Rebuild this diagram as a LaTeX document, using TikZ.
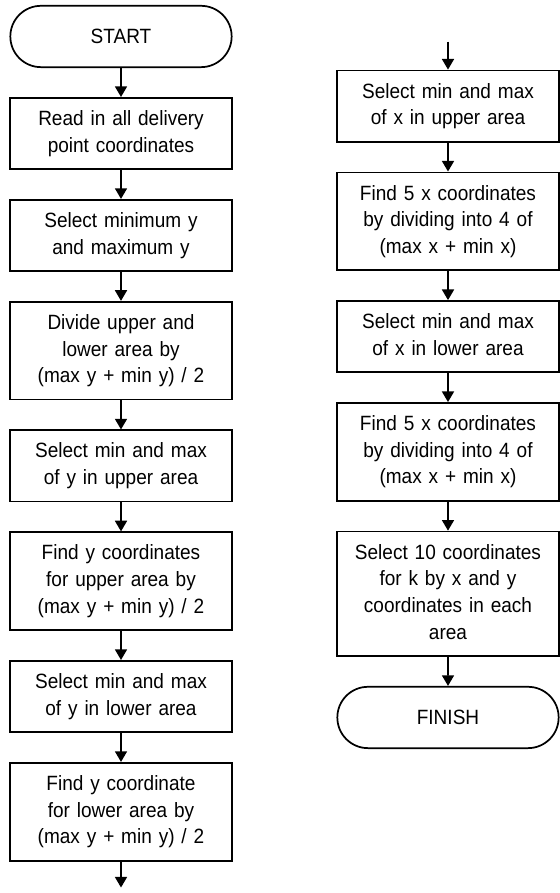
\documentclass[tikz,border=0pt]{standalone}
\usepackage{fontspec}
\setmainfont{Liberation Sans}[FakeStretch=0.92]
\usetikzlibrary{matrix, arrows.meta, shapes.misc}

\tikzset{
  proc/.style = {draw, line width=1.3pt, text width=150pt, align=center,
    inner xsep=8pt, inner ysep=6.7pt,
    execute at begin node=\strut, execute at end node=\strut},
  term/.style = {draw, line width=1.3pt, rounded rectangle,
    minimum width=166pt, minimum height=46pt},
  flow/.style = {line width=1.3pt, -{Triangle[length=8pt, width=9pt]}}
}

\begin{document}
\begin{tikzpicture}[font=\fontsize{15.5}{20}\selectfont]
\useasboundingbox (0,0) rectangle (420pt,-669.75pt);
\matrix (lcol) [matrix of nodes, row sep = 21.75pt, inner sep = 0pt, anchor = north] at (90.75pt,-3.5pt) {
\node[term](start){START}; \\
\node[proc](readpts){Read in all delivery\\point coordinates}; \\
\node[proc](selmm){Select minimum y\\and maximum y}; \\
\node[proc](divide){Divide upper and\\lower area by\\(max y + min y) / 2}; \\
\node[proc](upsel){Select min and max\\of y in upper area}; \\
\node[proc](upfind){Find y coordinates\\for upper area by\\(max y + min y) / 2}; \\
\node[proc](lowsel){Select min and max\\of y in lower area}; \\
\node[proc](lowfind){Find y coordinate\\for lower area by\\(max y + min y) / 2}; \\
};
\matrix (rcol) [matrix of nodes, row sep = 21.75pt, inner sep = 0pt, anchor = north] at (336pt,-52pt) {
\node[proc](xupsel){Select min and max\\of x in upper area}; \\
\node[proc](xupfind){Find 5 x coordinates\\by dividing into 4 of\\(max x + min x)}; \\
\node[proc](xlowsel){Select min and max\\of x in lower area}; \\
\node[proc](xlowfind){Find 5 x coordinates\\by dividing into 4 of\\(max x + min x)}; \\
\node[proc](selk){Select 10 coordinates\\for k by x and y\\coordinates in each\\area}; \\
\node[term](finish){FINISH}; \\
};
\coordinate (lout) at ([yshift=-19.5pt]lowfind.south);
\coordinate (rin) at ([yshift=21pt]xupsel.north);
\draw[flow] (start) -- (readpts);
\draw[flow] (readpts) -- (selmm);
\draw[flow] (selmm) -- (divide);
\draw[flow] (divide) -- (upsel);
\draw[flow] (upsel) -- (upfind);
\draw[flow] (upfind) -- (lowsel);
\draw[flow] (lowsel) -- (lowfind);
\draw[flow] (lowfind) -- (lout);
\draw[flow] (rin) -- (xupsel);
\draw[flow] (xupsel) -- (xupfind);
\draw[flow] (xupfind) -- (xlowsel);
\draw[flow] (xlowsel) -- (xlowfind);
\draw[flow] (xlowfind) -- (selk);
\draw[flow] (selk) -- (finish);
\end{tikzpicture}
\end{document}
